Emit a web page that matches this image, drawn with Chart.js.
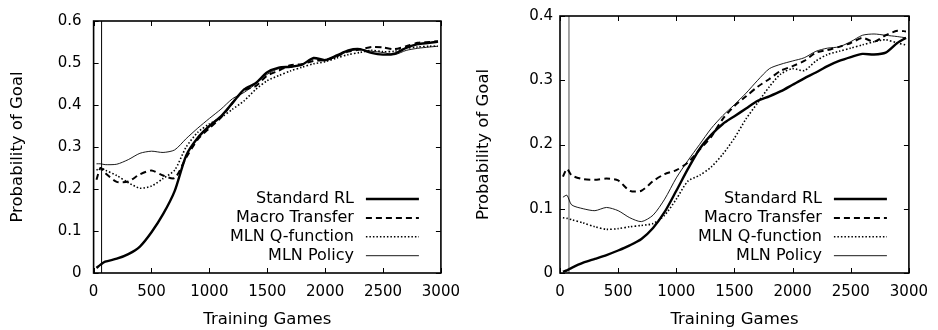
<!DOCTYPE html>
<html>
<head>
<meta charset="utf-8">
<script src="https://cdn.jsdelivr.net/npm/chart.js@4.4.1/dist/chart.umd.min.js"></script>
<style>
  html, body { margin: 0; padding: 0; background: #fff; }
  #wrap { position: relative; width: 938px; height: 330px; }
  .panel { position: absolute; top: 0; height: 330px; }
</style>
</head>
<body>
<div id="wrap">
  <div class="panel" style="left:0;width:470px"><canvas id="leftChart"></canvas></div>
  <div class="panel" style="left:470px;width:468px"><canvas id="rightChart"></canvas></div>
</div>
<script>
// training games (x) shared by all curves
const games = [25, 60, 100, 200, 300, 400, 500, 600, 700, 800, 900, 1000, 1100, 1200, 1300, 1400,
  1500, 1600, 1700, 1800, 1900, 2000, 2100, 2200, 2300, 2400, 2500, 2600, 2700, 2800, 2900, 2975];

const seriesNames = ['Standard RL', 'Macro Transfer', 'MLN Q-function', 'MLN Policy'];

// left panel
const leftStandard = [0.012, 0.020, 0.027, 0.034, 0.045, 0.063, 0.097, 0.140, 0.195, 0.280, 0.322, 0.350, 0.373, 0.405, 0.437, 0.452,
  0.478, 0.489, 0.491, 0.496, 0.512, 0.507, 0.518, 0.530, 0.533, 0.524, 0.520, 0.522, 0.536, 0.545, 0.548, 0.551];
const leftMacro = [0.222, 0.250, 0.238, 0.217, 0.218, 0.235, 0.244, 0.232, 0.226, 0.275, 0.318, 0.345, 0.370, 0.405, 0.435, 0.445,
  0.470, 0.482, 0.495, 0.497, 0.505, 0.507, 0.516, 0.527, 0.532, 0.538, 0.537, 0.533, 0.540, 0.548, 0.550, 0.552];
const leftQfunc = [0.245, 0.250, 0.245, 0.232, 0.215, 0.202, 0.207, 0.225, 0.245, 0.300, 0.335, 0.355, 0.370, 0.390, 0.410, 0.437,
  0.458, 0.470, 0.481, 0.490, 0.498, 0.503, 0.512, 0.520, 0.525, 0.530, 0.527, 0.528, 0.535, 0.538, 0.540, 0.540];
const leftPolicy = [0.260, 0.260, 0.258, 0.259, 0.270, 0.285, 0.290, 0.287, 0.293, 0.320, 0.345, 0.368, 0.390, 0.415, 0.430, 0.450,
  0.473, 0.487, 0.490, 0.497, 0.510, 0.505, 0.515, 0.528, 0.532, 0.528, 0.525, 0.520, 0.530, 0.535, 0.538, 0.540];
const leftMarkerX = 69;
const leftTicksY = [0, 0.1, 0.2, 0.3, 0.4, 0.5, 0.6];

// right panel
const rightStandard = [0.002, 0.004, 0.008, 0.016, 0.022, 0.028, 0.035, 0.043, 0.053, 0.070, 0.095, 0.128, 0.162, 0.193, 0.215, 0.232,
  0.244, 0.256, 0.268, 0.275, 0.283, 0.293, 0.303, 0.312, 0.322, 0.330, 0.336, 0.341, 0.340, 0.343, 0.358, 0.366];
const rightMacro = [0.150, 0.162, 0.152, 0.146, 0.145, 0.147, 0.144, 0.128, 0.128, 0.143, 0.154, 0.160, 0.172, 0.192, 0.212, 0.240,
  0.260, 0.275, 0.290, 0.302, 0.315, 0.322, 0.330, 0.343, 0.347, 0.352, 0.358, 0.366, 0.360, 0.370, 0.377, 0.376];
const rightQfunc = [0.086, 0.085, 0.083, 0.078, 0.072, 0.068, 0.069, 0.072, 0.074, 0.077, 0.090, 0.115, 0.143, 0.152, 0.165, 0.185,
  0.210, 0.240, 0.265, 0.290, 0.310, 0.318, 0.315, 0.330, 0.340, 0.345, 0.350, 0.355, 0.360, 0.363, 0.358, 0.355];
const rightPolicy = [0.118, 0.121, 0.106, 0.100, 0.097, 0.102, 0.097, 0.086, 0.080, 0.090, 0.115, 0.148, 0.175, 0.200, 0.225, 0.245,
  0.262, 0.280, 0.300, 0.318, 0.325, 0.330, 0.335, 0.345, 0.350, 0.352, 0.360, 0.370, 0.372, 0.370, 0.368, 0.366];
const rightMarkerX = 77;
const rightTicksY = [0, 0.1, 0.2, 0.3, 0.4];

const xTicks = [0, 500, 1000, 1500, 2000, 2500, 3000];

Chart.defaults.font.family = '"DejaVu Sans", sans-serif';
Chart.defaults.color = '#000';
Chart.defaults.animation = false;

const styles = [
  { borderWidth: 2.4, borderDash: [] },
  { borderWidth: 2, borderDash: [6, 4] },
  { borderWidth: 1.6, borderDash: [1.5, 2] },
  { borderWidth: 0.9, borderDash: [] }
];

function toPoints(ys) {
  return ys.map((y, i) => ({ x: games[i], y: y }));
}

// gnuplot style frame with inward ticks + key in lower right
const gnuplotFrame = {
  id: 'gnuplotFrame',
  afterDatasetsDraw(chart) {
    const { ctx, chartArea: a, scales } = chart;
    ctx.save();
    ctx.strokeStyle = '#000';
    ctx.lineWidth = 1;
    ctx.setLineDash([]);
    ctx.beginPath();
    scales.x.ticks.forEach(t => {
      const px = Math.round(scales.x.getPixelForValue(t.value)) + 0.5;
      ctx.moveTo(px, a.bottom); ctx.lineTo(px, a.bottom - 5);
      ctx.moveTo(px, a.top); ctx.lineTo(px, a.top + 5);
    });
    scales.y.ticks.forEach(t => {
      const py = Math.round(scales.y.getPixelForValue(t.value)) + 0.5;
      ctx.moveTo(a.left, py); ctx.lineTo(a.left + 5, py);
      ctx.moveTo(a.right, py); ctx.lineTo(a.right - 5, py);
    });
    ctx.stroke();
    ctx.lineWidth = 1.6;
    ctx.strokeRect(a.left, a.top, a.right - a.left, a.bottom - a.top);

    // key
    ctx.font = '16px "DejaVu Sans"';
    ctx.textAlign = 'right';
    ctx.textBaseline = 'middle';
    ctx.fillStyle = '#000';
    let row = 0;
    chart.data.datasets.forEach(ds => {
      if (!ds.inKey) return;
      const y = a.bottom - 74 + row * 18.9;
      ctx.fillText(ds.label, a.right - 87, y);
      ctx.setLineDash(ds.borderDash || []);
      ctx.lineWidth = ds.borderWidth;
      ctx.strokeStyle = ds.borderColor;
      ctx.beginPath();
      ctx.moveTo(a.right - 75, y);
      ctx.lineTo(a.right - 22, y);
      ctx.stroke();
      row++;
    });
    ctx.restore();
  }
};

function makeChart(id, series, markerX, markerColor, markerWidth, yMax, yTicks, plotLeft, plotRight, canvasW, tickPad, titlePad) {
  const datasets = series.map((ys, i) => ({
    label: seriesNames[i],
    data: toPoints(ys),
    borderColor: '#000',
    borderWidth: styles[i].borderWidth,
    borderDash: styles[i].borderDash,
    pointRadius: 0,
    tension: 0.25,
    fill: false,
    inKey: true
  }));
  datasets.push({
    label: 'marker',
    data: [{ x: markerX, y: 0 }, { x: markerX, y: yMax }],
    borderColor: markerColor,
    borderWidth: markerWidth,
    pointRadius: 0,
    fill: false,
    inKey: false
  });

  return new Chart(document.getElementById(id), {
    type: 'line',
    data: { datasets },
    options: {
      responsive: false,
      maintainAspectRatio: false,
      layout: { padding: { top: 15, right: canvasW - plotRight, left: 0, bottom: 0 } },
      plugins: { legend: { display: false }, tooltip: { enabled: false } },
      scales: {
        x: {
          type: 'linear',
          min: 0, max: 3000,
          afterBuildTicks: s => { s.ticks = xTicks.map(v => ({ value: v })); },
          afterFit: s => { s.height = 57; },
          grid: { display: false, drawTicks: false },
          border: { display: false },
          ticks: { font: { size: 15 }, padding: 10, maxRotation: 0, callback: v => String(v) },
          title: { display: true, text: 'Training Games', font: { size: 16.5 }, padding: { top: 1.5, bottom: 0 } }
        },
        y: {
          type: 'linear',
          min: 0, max: yMax,
          afterBuildTicks: s => { s.ticks = yTicks.map(v => ({ value: v })); },
          afterFit: s => { s.width = plotLeft; },
          grid: { display: false, drawTicks: false },
          border: { display: false },
          ticks: { font: { size: 15 }, padding: tickPad, callback: v => String(v) },
          title: { display: true, text: 'Probability of Goal', font: { size: 16.5 }, padding: { top: titlePad, bottom: 0 } }
        }
      }
    },
    plugins: [gnuplotFrame]
  });
}

function setupCanvas(id, w) {
  const c = document.getElementById(id);
  c.width = w; c.height = 330;
  c.style.width = w + 'px'; c.style.height = '330px';
}
setupCanvas('leftChart', 470);
setupCanvas('rightChart', 468);

makeChart('leftChart', [leftStandard, leftMacro, leftQfunc, leftPolicy], leftMarkerX, '#000', 1, 0.6, leftTicksY,
  93.6, 446.5, 470, 12, 8.2);
makeChart('rightChart', [rightStandard, rightMacro, rightQfunc, rightPolicy], rightMarkerX, '#888', 1.5, 0.4, rightTicksY,
  90, 442.7, 468, 7, 4.2);
</script>
</body>
</html>
